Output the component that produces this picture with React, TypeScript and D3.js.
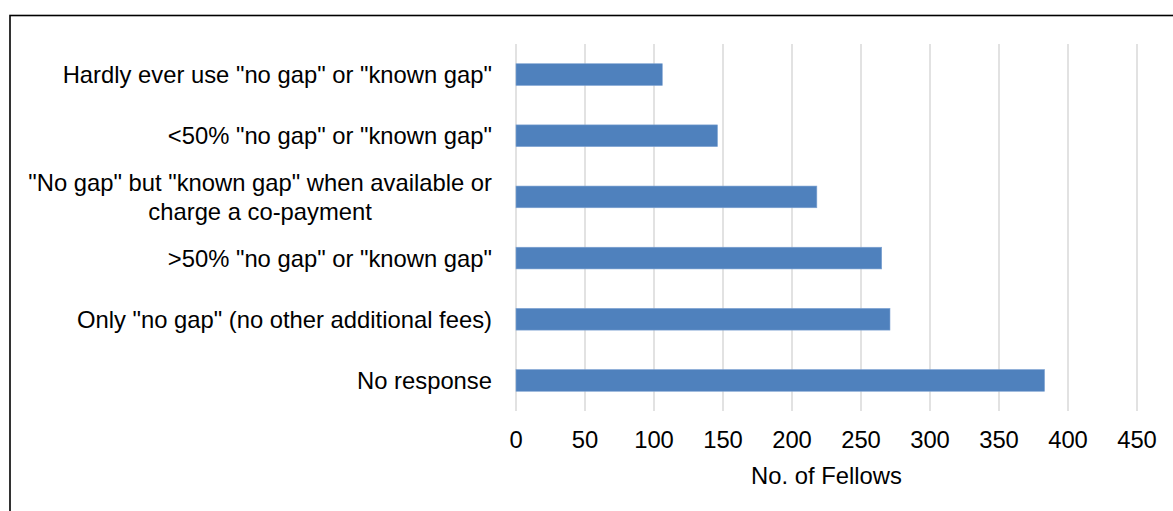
import React from "react";
import * as d3 from "d3";

// Survey responses: billing practice of Fellows
const categories: string[][] = [
  ['Hardly ever use "no gap" or "known gap"'],
  ['<50% "no gap" or "known gap"'],
  ['"No gap" but "known gap" when available or', "charge a co-payment"],
  ['>50% "no gap" or "known gap"'],
  ['Only "no gap" (no other additional fees)'],
  ["No response"],
];
const fellows: number[] = [106, 146, 218, 265, 271, 383];
const xTicks: number[] = [0, 50, 100, 150, 200, 250, 300, 350, 400, 450];
const xTitle = "No. of Fellows";

const W = 1173;
const H = 511;
const FONT_SIZE = 23.8;
const FONT = "'Liberation Sans', Arial, sans-serif";

// width of a string in the label font, used to centre wrapped labels
function textWidth(s: string): number {
  const c = document.createElement("canvas").getContext("2d");
  if (!c) return s.length * FONT_SIZE * 0.5;
  c.font = `${FONT_SIZE}px ${FONT}`;
  return c.measureText(s).width;
}

export default function App() {
  const plot = { left: 516, right: 1137, top: 44, bottom: 411 };
  const keys = categories.map((_, i) => String(i));
  const labelRight = 492;

  const x = d3.scaleLinear().domain([0, 450]).range([plot.left, plot.right]);
  const y = d3
    .scaleBand<string>()
    .domain(keys)
    .range([plot.top, plot.bottom])
    .paddingInner(0.645)
    .paddingOuter(0.3225);

  const lineH = 28.3;

  return (
    <svg
      width={W}
      height={H}
      style={{ position: "fixed", left: 0, top: 0, background: "#fff" }}
      fontFamily={FONT}
    >
      <rect x={0} y={0} width={W} height={H} fill="#fff" />
      {/* chart frame */}
      <rect
        x={10}
        y={15.5}
        width={W + 50}
        height={H + 50}
        fill="none"
        stroke="#000"
        strokeWidth={1.6}
      />

      {/* vertical gridlines */}
      {xTicks.map((t) => (
        <line
          key={"g" + t}
          x1={x(t)}
          x2={x(t)}
          y1={plot.top}
          y2={plot.bottom}
          stroke="#d9d9d9"
          strokeWidth={1.5}
        />
      ))}

      {/* bars */}
      {fellows.map((v, i) => (
        <rect
          key={"b" + i}
          x={x(0)}
          y={y(keys[i])}
          width={x(v) - x(0)}
          height={y.bandwidth()}
          fill="#4f81bd"
          stroke="#7ea3d2"
          strokeWidth={0.6}
        />
      ))}

      {/* category labels: block right-aligned, wrapped lines centred */}
      {categories.map((lines, i) => {
        const cy = (y(keys[i]) as number) + y.bandwidth() / 2;
        const first = cy - ((lines.length - 1) * lineH) / 2 + 8.5;
        if (lines.length === 1) {
          return (
            <text
              key={"c" + i}
              x={labelRight}
              y={first}
              textAnchor="end"
              fontSize={FONT_SIZE}
              fill="#000"
            >
              {lines[0]}
            </text>
          );
        }
        const widest = Math.max(...lines.map(textWidth));
        const cx = labelRight - widest / 2;
        return (
          <text key={"c" + i} textAnchor="middle" fontSize={FONT_SIZE} fill="#000">
            {lines.map((ln, j) => (
              <tspan key={j} x={cx} y={first + j * lineH}>
                {ln}
              </tspan>
            ))}
          </text>
        );
      })}

      {/* tick labels */}
      {xTicks.map((t) => (
        <text
          key={"t" + t}
          x={x(t)}
          y={448.3}
          textAnchor="middle"
          fontSize={FONT_SIZE}
          fill="#000"
        >
          {t}
        </text>
      ))}

      {/* axis title */}
      <text
        x={(plot.left + plot.right) / 2}
        y={484}
        textAnchor="middle"
        fontSize={FONT_SIZE}
        fill="#000"
      >
        {xTitle}
      </text>
    </svg>
  );
}
